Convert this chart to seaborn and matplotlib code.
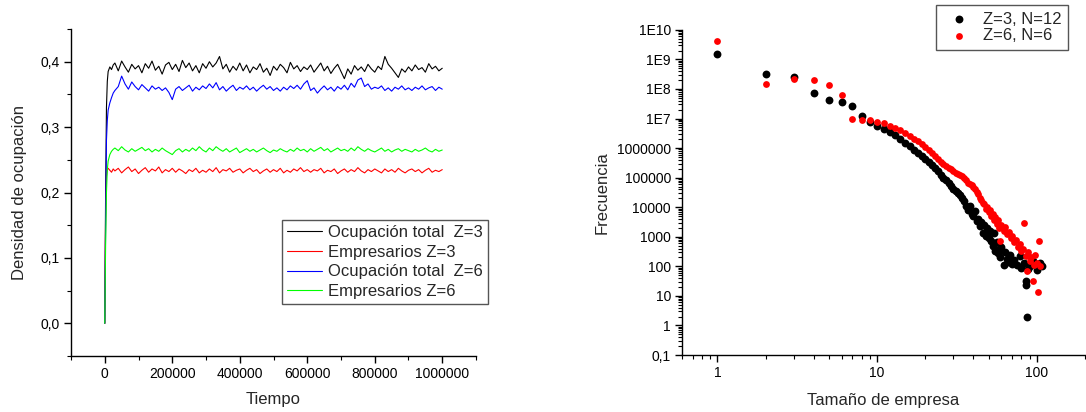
import numpy as np
import pandas as pd
import matplotlib
matplotlib.use("Agg")
import matplotlib.pyplot as plt
import seaborn as sns
from matplotlib.ticker import FixedLocator, FixedFormatter, MultipleLocator, LogLocator, NullFormatter

sns.set_theme(style="ticks")
plt.rcParams["font.family"] = ["Liberation Sans", "DejaVu Sans"]

# ---------------- Panel izquierdo: evolución temporal ----------------
tiempo_inicio = [0, 2500, 5000, 7500, 10000, 15000, 20000, 25000]
tiempo_regular = list(range(30000, 1000001, 10000))
tiempo = tiempo_inicio + tiempo_regular

# densidades en milésimas
ocupacion_z3 = [
    0, 200, 330, 370, 385, 392, 388, 395,
    398, 386, 401, 392, 384, 396, 389, 394,
    383, 397, 390, 401, 387, 393, 381, 395, 399, 388,
    396, 385, 402, 391, 398, 386, 394, 383, 397, 390,
    400, 392, 398, 408, 389, 396, 384, 393, 387, 398,
    386, 395, 383, 392, 388, 397, 384, 390, 379, 393,
    387, 396, 391, 383, 399, 389, 394, 385, 392, 388,
    395, 384, 391, 398, 386, 393, 382, 390, 396, 385,
    374, 389, 381, 394, 387, 392, 385, 396, 389, 384,
    393, 388, 408, 396, 390, 383, 376, 389, 384, 392,
    386, 395, 388, 391, 384, 397, 389, 393, 386, 390,
]
empresarios_z3 = [
    0, 170, 225, 236, 237, 234, 231, 236,
    233, 237, 230, 235, 239, 232, 236, 229,
    234, 238, 231, 236, 233, 239, 230, 235, 232, 237,
    231, 236, 233, 229, 235, 232, 237, 230, 234, 231,
    236, 232, 238, 230, 235, 233, 237, 231, 234, 236,
    230, 234, 237, 232, 235, 229, 233, 236, 231, 235,
    232, 237, 230, 234, 231, 236, 233, 238, 232, 235,
    231, 235, 233, 237, 230, 234, 232, 236, 229, 233,
    236, 231, 235, 232, 238, 233, 230, 235, 232, 236,
    233, 230, 236, 232, 235, 231, 237, 233, 230, 234,
    236, 232, 235, 230, 234, 237, 231, 234, 232, 235,
]
ocupacion_z6 = [
    0, 150, 280, 310, 326, 337, 345, 352,
    356, 362, 378, 366, 358, 369, 362, 357,
    365, 360, 355, 363, 358, 361, 356, 360, 353, 342,
    358, 362, 356, 360, 364, 355, 361, 357, 363, 359,
    366, 360, 368, 357, 362, 355, 360, 364, 356, 361,
    358, 363, 357, 361, 355, 360, 364, 358, 362, 356,
    360, 355, 361, 357, 363, 359, 364, 358, 366, 371,
    356, 360, 352, 358, 363, 357, 361, 355, 362, 358,
    364, 357, 367, 361, 372, 375, 362, 366, 358, 361,
    359, 363, 356, 360, 355, 361, 358, 363, 357, 360,
    356, 361, 358, 363, 357, 360, 362, 356, 361, 358,
]
empresarios_z6 = [
    0, 120, 200, 235, 248, 258, 263, 266,
    268, 264, 270, 265, 262, 267, 263, 266,
    269, 264, 267, 262, 266, 263, 268, 264, 261, 258,
    264, 267, 262, 266, 263, 268, 264, 270, 265, 262,
    268, 264, 270, 266, 263, 267, 262, 265, 268, 261,
    264, 267, 263, 266, 262, 265, 268, 264, 261, 265,
    263, 267, 264, 262, 266, 263, 268, 264, 266, 262,
    267, 263, 266, 269, 264, 267, 262, 265, 268, 264,
    266, 263, 268, 264, 270, 266, 263, 267, 264, 262,
    265, 268, 263, 266, 262, 265, 267, 263, 266, 264,
    262, 266, 263, 265, 268, 264, 262, 266, 263, 265,
]

series_izq = [
    ("Ocupación total  Z=3", ocupacion_z3, "#000000"),
    ("Empresarios Z=3", empresarios_z3, "#FF0000"),
    ("Ocupación total  Z=6", ocupacion_z6, "#0000FF"),
    ("Empresarios Z=6", empresarios_z6, "#00FF00"),
]

x_ticks_izq = [0, 200000, 400000, 600000, 800000, 1000000]
x_ticklabels_izq = ["0", "200000", "400000", "600000", "800000", "1000000"]
y_ticks_izq = [0.0, 0.1, 0.2, 0.3, 0.4]
y_ticklabels_izq = ["0,0", "0,1", "0,2", "0,3", "0,4"]

# ---------------- Panel derecho: distribución de tamaños ----------------
tam_z3 = [1, 2, 3, 4, 5, 6, 7, 8, 9, 10, 11, 12, 13, 14, 15, 16, 17, 18, 19, 20,
          21, 22, 23, 24, 25, 26, 27, 28, 29, 30, 31, 32, 33, 34, 35, 36, 37, 38, 39, 40,
          41, 42, 43, 44, 45, 46, 47, 48, 49, 50, 51, 52, 53, 54, 55, 56, 57, 58, 59, 60,
          62, 63, 65, 66, 68, 70, 72, 75, 78, 80, 83, 85, 86, 87, 88, 90, 95, 100, 104, 108]
frec_z3 = [1.5e9, 3.2e8, 2.5e8, 7.2e7, 4.1e7, 3.6e7, 2.6e7, 1.2e7, 7.4e6, 5.4e6,
           4.4e6, 3.4e6, 2.7e6, 2.0e6, 1.5e6, 1.15e6, 8.8e5, 6.9e5, 5.5e5, 4.2e5,
           3.4e5, 2.7e5, 2.1e5, 1.65e5, 1.25e5, 1.0e5, 8.2e4, 6.6e4, 5.3e4, 4.2e4,
           3.5e4, 3.0e4, 2.6e4, 2.1e4, 1.6e4, 1.1e4, 8.3e3, 1.07e4, 6.0e3, 5.2e3,
           7.4e3, 3.5e3, 4.0e3, 2.3e3, 3.2e3, 1.35e3, 2.5e3, 1.1e3, 2.0e3, 9.0e2,
           1.6e3, 7.0e2, 5.0e2, 1.3e3, 3.2e2, 6.5e2, 2.8e2, 4.0e2, 2.0e2, 4.5e2,
           1.15e2, 3.0e2, 1.8e2, 1.4e2, 2.5e2, 1.2e2, 1.6e2, 1.15e2, 2.2e2, 9.0e1,
           1.3e2, 2.4e1, 3.2e1, 2.0, 8.0e1, 1.0e2, 1.5e2, 7.8e1, 1.3e2, 1.0e2]

tam_z6 = [1, 2, 3, 4, 5, 6, 7, 8, 9, 10, 11, 12, 13, 14, 15, 16, 17, 18, 19, 20,
          21, 22, 23, 24, 25, 26, 27, 28, 29, 30, 31, 32, 33, 34, 35, 36, 37, 38, 39, 40,
          41, 42, 43, 44, 45, 46, 47, 48, 49, 50, 51, 52, 53, 54, 55, 56, 57, 58, 59, 60,
          62, 63, 65, 67, 69, 70, 72, 74, 76, 78, 80, 82, 83, 85, 87, 88, 90, 92, 94, 96,
          98, 100, 101, 103, 105]
frec_z6 = [4.3e9, 1.5e8, 2.1e8, 2.0e8, 1.4e8, 6.2e7, 9.3e6, 8.9e6, 8.9e6, 7.9e6,
           6.8e6, 5.6e6, 4.8e6, 4.0e6, 3.2e6, 2.5e6, 2.1e6, 1.7e6, 1.35e6, 1.1e6,
           8.7e5, 6.9e5, 5.5e5, 4.2e5, 3.5e5, 2.95e5, 2.5e5, 2.15e5, 1.9e5, 1.65e5,
           1.45e5, 1.3e5, 1.2e5, 1.1e5, 1.0e5, 8.3e4, 6.8e4, 6.0e4, 5.6e4, 4.8e4,
           4.0e4, 3.2e4, 2.8e4, 2.1e4, 1.8e4, 1.4e4, 1.25e4, 9.0e3, 1.0e4, 7.0e3,
           8.0e3, 5.0e3, 6.0e3, 3.8e3, 4.5e3, 2.8e3, 3.6e3, 2.0e3, 7.1e2, 2.6e3,
           1.6e3, 2.2e3, 1.2e3, 1.5e3, 9.0e2, 1.1e3, 6.5e2, 8.0e2, 4.5e2, 5.5e2,
           3.2e2, 4.0e2, 2.95e3, 2.2e2, 6.8e1, 3.0e2, 1.5e2, 2.0e2, 3.1e1, 1.1e2,
           2.5e2, 1.3e2, 1.4e1, 7.1e2, 1.0e2]

y_ticks_der = [0.1, 1, 10, 100, 1e3, 1e4, 1e5, 1e6, 1e7, 1e8, 1e9, 1e10]
y_ticklabels_der = ["0,1", "1", "10", "100", "1000", "10000", "100000", "1000000",
                    "1E7", "1E8", "1E9", "1E10"]
x_ticks_der = [1, 10, 100]
x_ticklabels_der = ["1", "10", "100"]

# ---------------- Figura ----------------
fig = plt.figure(figsize=(10.86, 4.12), dpi=100)
ax1 = fig.add_axes([0.0654, 0.1359, 0.3729, 0.7937])
ax2 = fig.add_axes([0.628, 0.1383, 0.371, 0.7892])

frames = []
for nombre, valores, _ in series_izq:
    frames.append(pd.DataFrame({"Tiempo": tiempo,
                                "Densidad": np.array(valores) / 1000.0,
                                "Serie": nombre}))
df_izq = pd.concat(frames, ignore_index=True)
paleta = {n: c for n, _, c in series_izq}
orden = [n for n, _, _ in series_izq]

sns.lineplot(data=df_izq, x="Tiempo", y="Densidad", hue="Serie", hue_order=orden,
             palette=paleta, estimator=None, sort=False, linewidth=0.8, ax=ax1)

ax1.set_xlim(-100000, 1100000)
ax1.set_ylim(-0.05, 0.45)
ax1.xaxis.set_major_locator(FixedLocator(x_ticks_izq))
ax1.xaxis.set_major_formatter(FixedFormatter(x_ticklabels_izq))
ax1.xaxis.set_minor_locator(MultipleLocator(100000))
ax1.yaxis.set_major_locator(FixedLocator(y_ticks_izq))
ax1.yaxis.set_major_formatter(FixedFormatter(y_ticklabels_izq))
ax1.yaxis.set_minor_locator(MultipleLocator(0.05))
ax1.set_xlabel("Tiempo", fontsize=12, labelpad=8)
ax1.set_ylabel("Densidad de ocupación", fontsize=12, labelpad=10)

handles, labels = ax1.get_legend_handles_labels()
for h in handles:
    h.set_linewidth(0.8)
ax1.legend(handles, labels, loc="upper right", bbox_to_anchor=(0.4494, 0.466),
           bbox_transform=fig.transFigure, fontsize=12, frameon=True, fancybox=False,
           edgecolor="#555555", framealpha=1, borderpad=0.3, labelspacing=0.28,
           handlelength=2.1, handletextpad=0.4, borderaxespad=0)

df_z3 = pd.DataFrame({"Tamaño": tam_z3, "Frecuencia": frec_z3})
df_z6 = pd.DataFrame({"Tamaño": tam_z6, "Frecuencia": frec_z6})
sns.scatterplot(data=df_z3, x="Tamaño", y="Frecuencia", color="#000000", s=32,
                linewidth=0, label="Z=3, N=12", ax=ax2, zorder=3)
sns.scatterplot(data=df_z6, x="Tamaño", y="Frecuencia", color="#FF0000", s=24,
                linewidth=0, label="Z=6, N=6", ax=ax2, zorder=4)

ax2.set_xscale("log")
ax2.set_yscale("log")
ax2.set_xlim(0.6, 200)
ax2.set_ylim(0.1, 1e10)
ax2.xaxis.set_major_locator(FixedLocator(x_ticks_der))
ax2.xaxis.set_major_formatter(FixedFormatter(x_ticklabels_der))
ax2.xaxis.set_minor_locator(LogLocator(base=10, subs=np.arange(2, 10), numticks=20))
ax2.xaxis.set_minor_formatter(NullFormatter())
ax2.yaxis.set_major_locator(FixedLocator(y_ticks_der))
ax2.yaxis.set_major_formatter(FixedFormatter(y_ticklabels_der))
ax2.yaxis.set_minor_locator(LogLocator(base=10, subs=np.arange(2, 10), numticks=30))
ax2.yaxis.set_minor_formatter(NullFormatter())
ax2.set_xlabel("Tamaño de empresa", fontsize=12, labelpad=9)
ax2.set_ylabel("Frecuencia", fontsize=12, labelpad=5)

ax2.legend(loc="upper right", bbox_to_anchor=(0.9834, 0.988),
           bbox_transform=fig.transFigure, fontsize=12, frameon=True, fancybox=False,
           edgecolor="#555555", framealpha=1, borderpad=0.4, labelspacing=0.1,
           handletextpad=0.4, borderaxespad=0, markerscale=1.0)

for ax in (ax1, ax2):
    sns.despine(ax=ax)
    for side in ("left", "bottom"):
        ax.spines[side].set_color("black")
        ax.spines[side].set_linewidth(1.0)
    ax.tick_params(which="major", direction="out", length=5, width=1.0,
                   color="black", labelsize=10, labelcolor="black", pad=3)
    ax.tick_params(which="minor", direction="out", length=3, width=0.8, color="black")
    ax.grid(False)

fig.savefig("out.png", dpi=100)
